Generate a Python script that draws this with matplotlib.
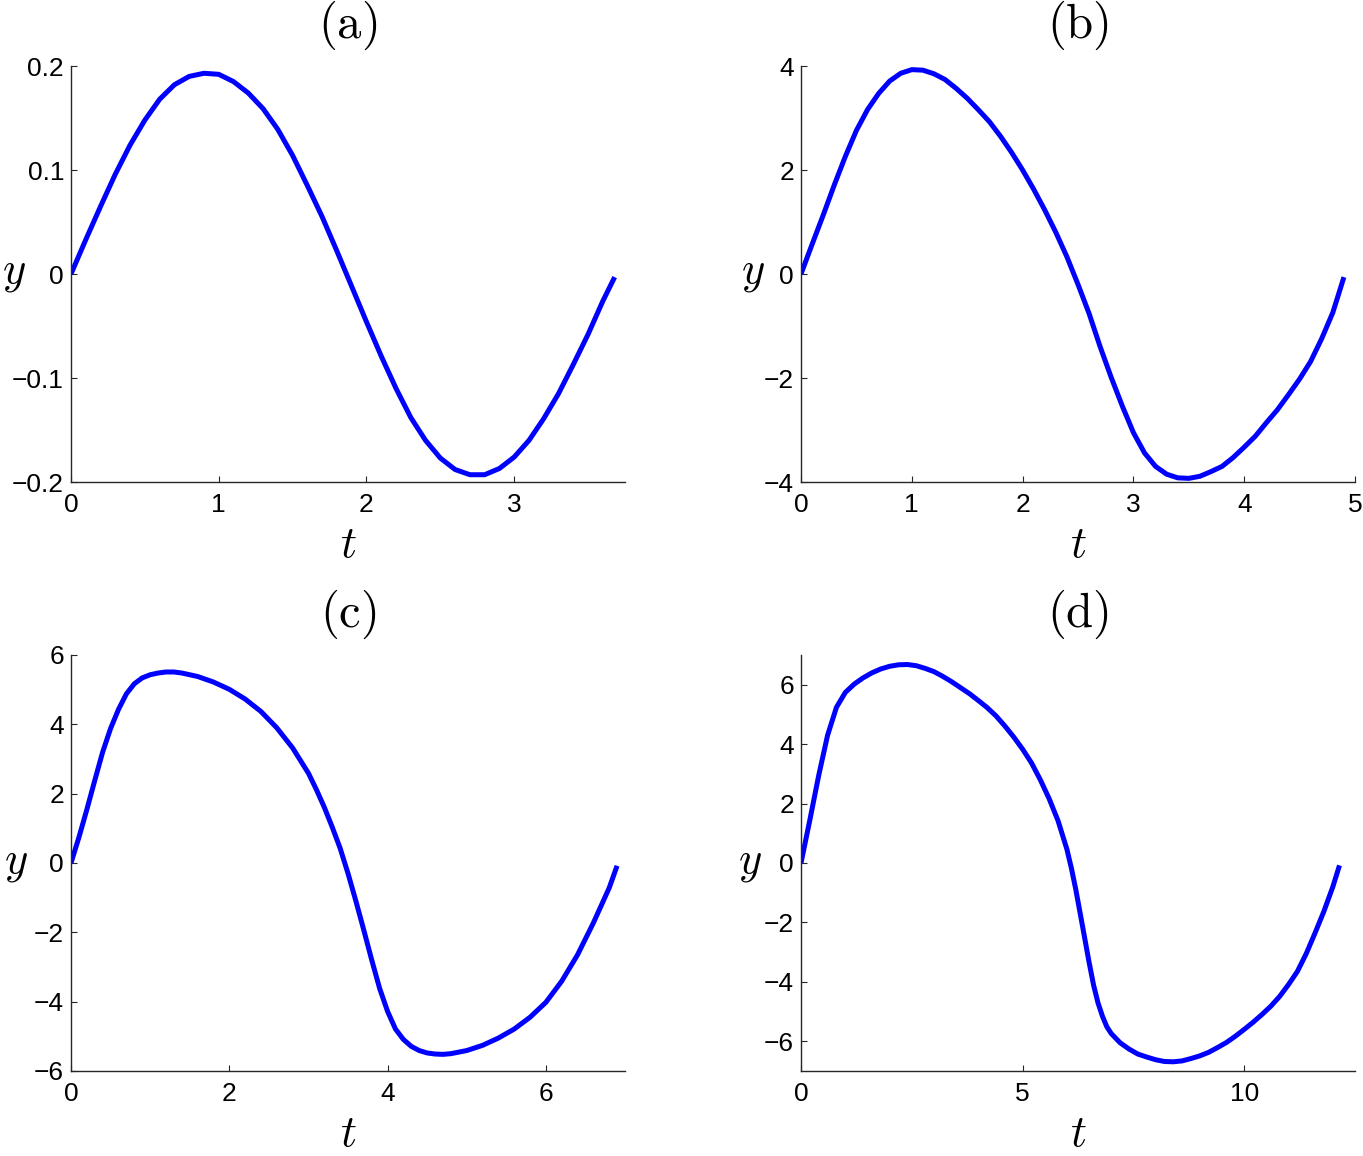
import numpy as np
import matplotlib
matplotlib.use("Agg")
import matplotlib.pyplot as plt

plt.rcParams['mathtext.fontset'] = 'cm'
plt.rcParams['font.family'] = ['Liberation Sans', 'DejaVu Sans']

# (a)
t_a = [0.0, 0.1, 0.2, 0.3, 0.4, 0.5, 0.6, 0.7, 0.8, 0.9, 1.0, 1.1, 1.2, 1.3, 1.4, 1.5, 1.6, 1.7,
       1.8, 1.9, 2.0, 2.1, 2.2, 2.3, 2.4, 2.5, 2.6, 2.7, 2.8, 2.9, 3.0, 3.1, 3.2, 3.3, 3.4, 3.5,
       3.6, 3.68]
y_a = [0, 0.033, 0.065, 0.096, 0.124, 0.148, 0.168, 0.182, 0.190, 0.193, 0.192, 0.185, 0.174,
       0.159, 0.139, 0.114, 0.085, 0.055, 0.022, -0.012, -0.046, -0.079, -0.110, -0.138, -0.160,
       -0.177, -0.188, -0.193, -0.193, -0.187, -0.176, -0.160, -0.139, -0.115, -0.087, -0.058,
       -0.026, -0.003]

# (b)
t_b = [0.0, 0.1, 0.2, 0.3, 0.4, 0.5, 0.6, 0.7, 0.8, 0.9, 1.0, 1.1, 1.2, 1.3, 1.4, 1.5, 1.6, 1.7,
       1.8, 1.9, 2.0, 2.1, 2.2, 2.3, 2.4, 2.5, 2.6, 2.7, 2.8, 2.9, 3.0, 3.1, 3.2, 3.3, 3.4, 3.5,
       3.6, 3.7, 3.8, 3.9, 4.0, 4.1, 4.2, 4.3, 4.4, 4.5, 4.6, 4.7, 4.8, 4.9]
y_b = [0, 0.57, 1.13, 1.71, 2.26, 2.76, 3.16, 3.47, 3.71, 3.86, 3.93, 3.92, 3.85, 3.74, 3.57,
       3.38, 3.16, 2.93, 2.65, 2.34, 2.00, 1.63, 1.23, 0.80, 0.33, -0.20, -0.76, -1.40, -1.99,
       -2.54, -3.05, -3.44, -3.70, -3.85, -3.92, -3.93, -3.89, -3.80, -3.70, -3.53, -3.33, -3.12,
       -2.86, -2.61, -2.32, -2.02, -1.68, -1.24, -0.74, -0.06]

# (c)
t_c = [0.0, 0.1, 0.2, 0.3, 0.4, 0.5, 0.6, 0.7, 0.8, 0.9, 1.0, 1.1, 1.2, 1.3, 1.4, 1.6, 1.8, 2.0,
       2.2, 2.4, 2.6, 2.8, 3.0, 3.1, 3.2, 3.3, 3.4, 3.5, 3.6, 3.7, 3.8, 3.9, 4.0, 4.1, 4.2, 4.3,
       4.4, 4.5, 4.6, 4.7, 4.8, 5.0, 5.2, 5.4, 5.6, 5.8, 6.0, 6.2, 6.4, 6.6, 6.8, 6.9]
y_c = [0, 0.74, 1.54, 2.38, 3.20, 3.88, 4.43, 4.88, 5.17, 5.34, 5.43, 5.48, 5.51, 5.51, 5.48,
       5.38, 5.22, 5.01, 4.73, 4.37, 3.90, 3.32, 2.59, 2.12, 1.61, 1.04, 0.43, -0.30, -1.10,
       -1.94, -2.80, -3.62, -4.28, -4.79, -5.09, -5.29, -5.41, -5.48, -5.51, -5.52, -5.50, -5.41,
       -5.26, -5.05, -4.79, -4.45, -4.02, -3.41, -2.65, -1.73, -0.72, -0.08]

# (d)
t_d = [0.0, 0.2, 0.4, 0.6, 0.8, 1.0, 1.2, 1.4, 1.6, 1.8, 2.0, 2.2, 2.4, 2.6, 2.8, 3.0, 3.2, 3.4,
       3.6, 3.8, 4.0, 4.2, 4.4, 4.6, 4.8, 5.0, 5.2, 5.4, 5.6, 5.8, 6.0, 6.1, 6.2, 6.3, 6.4, 6.5,
       6.6, 6.7, 6.8, 6.9, 7.0, 7.2, 7.4, 7.6, 7.8, 8.0, 8.2, 8.4, 8.6, 8.8, 9.0, 9.2, 9.4, 9.6,
       9.8, 10.0, 10.2, 10.4, 10.6, 10.8, 11.0, 11.2, 11.4, 11.6, 11.8, 12.0, 12.15]
y_d = [0, 1.45, 2.95, 4.30, 5.24, 5.74, 6.02, 6.23, 6.40, 6.53, 6.62, 6.67, 6.68, 6.64, 6.55,
       6.44, 6.28, 6.10, 5.90, 5.70, 5.47, 5.23, 4.95, 4.61, 4.24, 3.83, 3.37, 2.80, 2.16, 1.42,
       0.46, -0.17, -0.89, -1.70, -2.52, -3.34, -4.10, -4.70, -5.15, -5.51, -5.74, -6.05, -6.26,
       -6.43, -6.53, -6.62, -6.68, -6.69, -6.66, -6.58, -6.49, -6.37, -6.21, -6.04, -5.83, -5.60,
       -5.36, -5.10, -4.82, -4.49, -4.09, -3.65, -3.05, -2.35, -1.62, -0.80, -0.08]

titles = ['(a)', '(b)', '(c)', '(d)']
xlims = [3.75, 5.0, 7.0, 12.5]
ylims = [0.2, 4, 6, 7]
xticks = [[0, 1, 2, 3], [0, 1, 2, 3, 4, 5], [0, 2, 4, 6], [0, 5, 10]]
yticks = [[-0.2, -0.1, 0, 0.1, 0.2], [-4, -2, 0, 2, 4], [-6, -4, -2, 0, 2, 4, 6],
          [-6, -4, -2, 0, 2, 4, 6]]
ylab_x = [-0.103, -0.087, -0.099, -0.092]

W, H = 1363, 1156
fig = plt.figure(figsize=(W / 100, H / 100), dpi=100)

# axes boxes in pixels: left, top
boxes = [(71, 66), (801, 66), (71, 655), (801, 655)]
aw, ah = 554, 416

data = [(t_a, y_a), (t_b, y_b), (t_c, y_c), (t_d, y_d)]

for i in range(4):
    l, tp = boxes[i]
    ax = fig.add_axes([l / W, 1 - (tp + ah) / H, aw / W, ah / H])
    t, y = data[i]
    ax.plot(t, y, color=(0, 0, 1), lw=3.6, solid_capstyle='butt')
    ax.set_xlim(0, xlims[i])
    ax.set_ylim(-ylims[i], ylims[i])
    ax.set_xticks(xticks[i])
    ax.set_yticks(yticks[i])
    ax.set_xticklabels([str(v) for v in xticks[i]])
    ax.set_yticklabels([('\u2212' + str(abs(v))) if v < 0 else str(v) for v in yticks[i]])

    ax.spines['top'].set_visible(False)
    ax.spines['right'].set_visible(False)
    for s in ['left', 'bottom']:
        ax.spines[s].set_linewidth(1.0)
        ax.spines[s].set_color('#262626')
    ax.tick_params(direction='in', length=4, width=0.8, labelsize=19, colors='#262626',
                   labelcolor='black')
    ax.tick_params(axis='x', pad=8)
    ax.tick_params(axis='y', pad=5)

    ax.set_title('$\\mathrm{' + titles[i] + '}$', fontsize=35, pad=20)
    ax.set_xlabel('$t$', fontsize=32)
    ax.xaxis.set_label_coords(0.5, -0.152)
    ax.xaxis.label.set_va('center')
    ax.set_ylabel('$y$', fontsize=32, rotation=0)
    ax.yaxis.set_label_coords(ylab_x[i], 0.5)
    ax.yaxis.label.set_va('center')
    ax.yaxis.label.set_ha('center')

fig.savefig('out.png', dpi=100)
